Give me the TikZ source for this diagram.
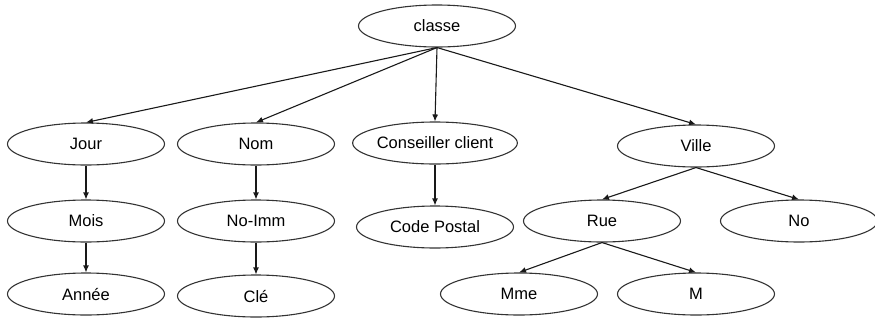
\documentclass[tikz,border=0pt]{standalone}
\usepackage{fontspec}
\setmainfont{Liberation Sans}
\usetikzlibrary{shapes.geometric,arrows.meta}

\begin{document}
\begin{tikzpicture}[x=1pt,y=-1pt,
  attr/.style={ellipse, draw=black!80, line width=1.1pt, inner sep=0pt,
    minimum width=157pt, minimum height=42pt,
    font=\fontsize{16.5}{18}\selectfont},
  lien/.style={draw=black!90, line width=1.1pt, -{Latex[length=7pt,width=6pt]}}]

\useasboundingbox (0,0) rectangle (875,322);

%root
\node[attr] (classe)   at (437,26)  {classe};
%
\node[attr] (jour)     at (86,144)  {Jour};
\node[attr] (mois)     at (86,221)  {Mois};
\node[attr] (annee)    at (86,294)  {Année};
%
\node[attr] (nom)      at (256,144) {Nom};
\node[attr] (noimm)    at (256,221) {No-Imm};
\node[attr] (cle)      at (256,296) {Clé};
%
\node[attr] (conseil)  at (435,143) {Conseiller client};
\node[attr] (code)     at (435,227) {Code Postal};
%
\node[attr] (ville)    at (696,146) {Ville};
\node[attr] (rue)      at (602,221) {Rue};
\node[attr] (no)       at (799,221) {No};
\node[attr] (mme)      at (519,294) {Mme};
\node[attr] (m)        at (696,294) {M};

%links
\draw [lien] (classe.south) -- (jour.north);
\draw [lien] (classe.south) -- (nom.north);
\draw [lien] (classe.south) -- (conseil.north);
\draw [lien] (classe.south) -- (ville.north);
%
\draw [lien] (jour)  -- (mois);
\draw [lien] (mois)  -- (annee);
\draw [lien] (nom)   -- (noimm);
\draw [lien] (noimm) -- (cle);
\draw [lien] (conseil) -- (code);
%
\draw [lien] (ville.south) -- (rue.north);
\draw [lien] (ville.south) -- (no.north);
\draw [lien] (rue.south)   -- (mme.north);
\draw [lien] (rue.south)   -- (m.north);

\end{tikzpicture}
\end{document}
